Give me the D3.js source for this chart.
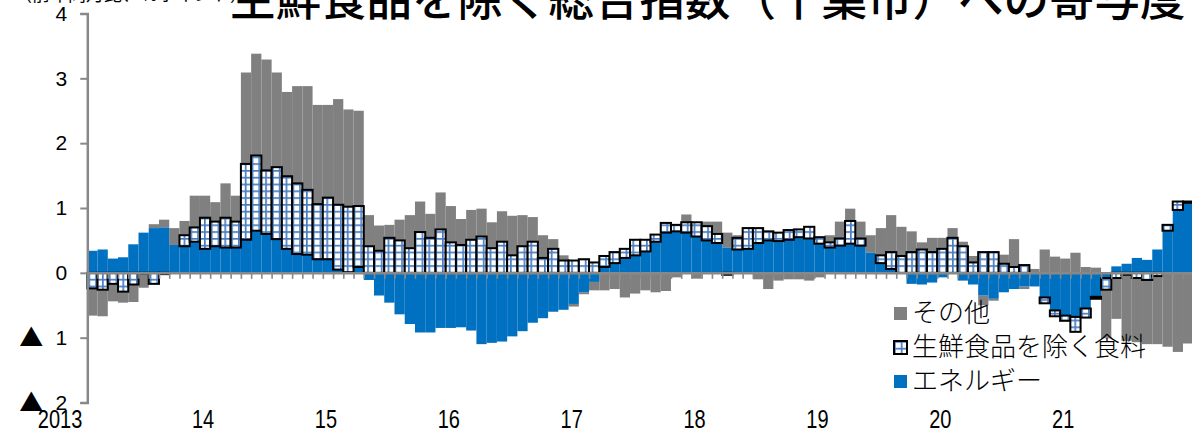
<!DOCTYPE html>
<html>
<head>
<meta charset="utf-8">
<script src="https://cdn.jsdelivr.net/npm/d3@7"></script>
<style>
body { margin: 0; background: #fff; }
svg { display: block; }
</style>
</head>
<body>
<div id="chart"></div>
<script>
// monthly, 2013-01 .. 2021-12
var months = d3.range(108);
var yearLabels = ["2013", "14", "15", "16", "17", "18", "19", "20", "21"];
var yTicks = [-2, -1, 0, 1, 2, 3, 4];
var legendNames = ["その他", "生鮮食品を除く食料", "エネルギー"];

var energy = [
	0.34, 0.36, 0.22, 0.24, 0.44, 0.62, 0.69, 0.70, 0.43, 0.41, 0.48, 0.37,
	0.41, 0.39, 0.39, 0.51, 0.65, 0.60, 0.52, 0.37, 0.29, 0.28, 0.21, 0.21,
	0.05, 0.01, 0.09, -0.11, -0.35, -0.46, -0.64, -0.79, -0.92, -0.92, -0.85, -0.85,
	-0.84, -0.89, -1.10, -1.08, -1.06, -0.98, -0.90, -0.77, -0.70, -0.60, -0.57, -0.48,
	-0.30, -0.14, 0.09, 0.15, 0.23, 0.27, 0.33, 0.48, 0.62, 0.64, 0.62, 0.56,
	0.50, 0.46, 0.39, 0.36, 0.37, 0.46, 0.50, 0.49, 0.51, 0.55, 0.53, 0.45,
	0.39, 0.42, 0.45, 0.42, 0.31, 0.15, 0.06, -0.01, -0.17, -0.18, -0.15, -0.07,
	-0.01, -0.12, -0.18, -0.35, -0.40, -0.30, -0.25, -0.21, -0.21, -0.38, -0.58, -0.66,
	-0.68, -0.55, -0.37, -0.08, 0.10, 0.14, 0.23, 0.20, 0.36, 0.65, 0.97, 1.08
];
var food = [
	-0.24, -0.26, -0.17, -0.29, -0.18, -0.01, -0.17, -0.02, 0.00, 0.17, 0.22, 0.48,
	0.38, 0.46, 0.40, 1.17, 1.16, 0.98, 1.11, 1.12, 1.09, 1.00, 0.85, 0.95,
	1.00, 1.01, 0.94, 0.41, 0.34, 0.54, 0.50, 0.38, 0.63, 0.54, 0.67, 0.47,
	0.43, 0.51, 0.56, 0.38, 0.48, 0.27, 0.41, 0.48, 0.23, 0.37, 0.19, 0.19,
	0.21, 0.16, 0.17, 0.17, 0.14, 0.24, 0.18, 0.11, 0.15, 0.10, 0.16, 0.22,
	0.22, 0.14, -0.03, 0.18, 0.32, 0.23, 0.14, 0.13, 0.15, 0.12, 0.18, 0.10,
	0.08, 0.11, 0.35, 0.11, 0.00, 0.12, 0.26, 0.26, 0.32, 0.36, 0.32, 0.37,
	0.54, 0.41, 0.16, 0.32, 0.32, 0.14, 0.09, 0.12, 0.00, -0.09, -0.09, -0.08,
	-0.23, -0.14, -0.03, -0.18, -0.08, -0.03, -0.08, -0.11, -0.05, 0.09, 0.13, 0.02
];
var other = [
	-0.42, -0.41, -0.27, -0.17, -0.27, -0.22, 0.06, 0.12, 0.26, 0.22, 0.49, 0.34,
	0.30, 0.53, 0.40, 1.41, 1.57, 1.71, 1.46, 1.30, 1.50, 1.60, 1.53, 1.43,
	1.63, 1.50, 1.47, 0.48, 0.39, 0.20, 0.32, 0.51, 0.47, 0.37, 0.57, 0.56,
	0.40, 0.46, 0.43, 0.40, 0.47, 0.61, 0.48, 0.38, 0.35, 0.15, 0.08, -0.04,
	-0.03, -0.13, -0.27, -0.25, -0.38, -0.32, -0.27, -0.30, -0.28, -0.07, 0.12, -0.09,
	0.07, 0.19, 0.23, 0.04, 0.01, -0.10, -0.25, -0.12, -0.10, -0.10, -0.12, -0.07,
	0.11, 0.26, 0.19, 0.26, 0.27, 0.42, 0.57, 0.45, 0.32, 0.11, 0.22, 0.17,
	0.15, 0.07, 0.10, -0.15, -0.03, 0.14, 0.43, -0.04, 0.06, 0.36, 0.25, 0.22,
	0.31, 0.09, 0.08, -0.75, -0.63, -1.02, -0.99, -0.99, -1.05, -1.14, -1.22, -1.09
];

var W = 1192, H = 434;
var gray = "#808080", blue = "#0070c0", axisGray = "#888888";

var svg = d3.select("#chart")
	.append("svg")
	.attr("width", W)
	.attr("height", H);

var defs = svg.append("defs");
var pat = defs.append("pattern")
	.attr("id", "grid")
	.attr("patternUnits", "userSpaceOnUse")
	.attr("width", 6.8)
	.attr("height", 6.8);
pat.append("rect").attr("width", 6.8).attr("height", 6.8).attr("fill", "#fff");
pat.append("rect").attr("x", 0).attr("y", 0).attr("width", 1.7).attr("height", 6.8).attr("fill", "#4a7dc0");
pat.append("rect").attr("x", 0).attr("y", 0).attr("width", 6.8).attr("height", 1.7).attr("fill", "#4a7dc0");

var x = d3.scaleBand()
	.domain(months)
	.range([87.3, 87.3 + 108 * 10.24])
	.padding(0);
var xb = d3.scaleLinear()
	.domain([0, 108])
	.range([87.3, 87.3 + 108 * 10.24]);
var y = d3.scaleLinear()
	.domain([-2, 4])
	.range([402.5, 13.5]);

var rows = months.map(function(i) {
	return { energy: energy[i], food: food[i], other: other[i] };
});
// Excel order: energy at the base, then food, then others
var stacked = d3.stack()
	.keys(["energy", "food", "other"])
	.offset(d3.stackOffsetDiverging)(rows);

var fills = { energy: blue, food: "url(#grid)", other: gray };

// gray and blue first, food boxes last so outlines sit on top
["other", "energy", "food"].forEach(function(key) {
	var layer = stacked.filter(function(s) { return s.key == key; })[0];
	var g = svg.append("g").attr("class", "layer-" + key);
	g.selectAll("rect")
		.data(layer.filter(function(d) { return d[1] - d[0] != 0; }))
		.enter()
		.append("rect")
		.attr("x", function(d) { return x(layer.indexOf(d)); })
		.attr("width", x.bandwidth())
		.attr("y", function(d) { return y(Math.max(d[0], d[1])); })
		.attr("height", function(d) { return Math.abs(y(d[0]) - y(d[1])); })
		.attr("fill", fills[key])
		.attr("stroke", key == "food" ? "#000" : "none")
		.attr("stroke-width", key == "food" ? 2 : 0);
});

// y axis
var yAxis = svg.append("g")
	.attr("transform", "translate(87.3,0)")
	.call(d3.axisLeft(y)
		.tickValues(yTicks)
		.tickSize(7)
		.tickPadding(13)
		.tickFormat(function(d) { return Math.abs(d); }));
yAxis.select(".domain").attr("stroke", axisGray).attr("stroke-width", 2.5);
yAxis.selectAll(".tick line").attr("stroke", axisGray).attr("stroke-width", 2);
yAxis.selectAll(".tick text")
	.attr("font-family", "Liberation Sans, Arial, sans-serif")
	.attr("font-size", 21)
	.attr("fill", "#000");
yAxis.selectAll(".tick")
	.filter(function(d) { return d < 0; })
	.append("text")
	.attr("x", -44)
	.attr("dy", "0.32em")
	.attr("text-anchor", "end")
	.attr("font-family", "Noto Sans CJK JP, sans-serif")
	.attr("font-size", 24)
	.attr("fill", "#000")
	.text("▲");

// zero line with month ticks
var xAxis = svg.append("g")
	.attr("transform", "translate(0," + y(0) + ")")
	.call(d3.axisBottom(xb)
		.tickValues(d3.range(1, 108))
		.tickSize(6)
		.tickSizeOuter(0)
		.tickFormat(""));
xAxis.select(".domain").attr("stroke", axisGray).attr("stroke-width", 2.5);
xAxis.selectAll(".tick line").attr("stroke", axisGray).attr("stroke-width", 1.6);

// year labels
svg.append("g").selectAll("text")
	.data(yearLabels)
	.enter()
	.append("text")
	.attr("transform", function(d, i) {
		var px = xb(i * 12) + (i == 0 ? -5 : 4);
		return "translate(" + px + ",428) scale(0.8,1)";
	})
	.attr("text-anchor", "end")
	.attr("font-family", "Liberation Sans, Arial, sans-serif")
	.attr("font-size", 25)
	.attr("fill", "#000")
	.text(function(d) { return d; });

// title (cut off at the top in the original)
svg.append("text")
	.attr("x", 230)
	.attr("y", 16)
	.attr("font-family", "Noto Sans CJK JP, sans-serif")
	.attr("font-size", 45.5)
	.attr("font-weight", 500)
	.attr("fill", "#000")
	.text("生鮮食品を除く総合指数（千葉市）への寄与度");

svg.append("text")
	.attr("x", 14)
	.attr("y", 1)
	.attr("font-family", "Noto Sans CJK JP, sans-serif")
	.attr("font-size", 18)
	.attr("fill", "#000")
	.text("（前年同月比、％ポイント）");

// legend
var legendFills = [gray, "url(#grid)", blue];
var lg = svg.append("g").attr("transform", "translate(894,307)");
var item = lg.selectAll("g")
	.data(legendNames)
	.enter()
	.append("g")
	.attr("transform", function(d, i) { return "translate(0," + i * 34 + ")"; });
item.append("rect")
	.attr("width", 13)
	.attr("height", 13)
	.attr("fill", function(d, i) { return legendFills[i]; })
	.attr("stroke", function(d, i) { return i == 1 ? "#000" : "none"; })
	.attr("stroke-width", 2);
item.append("text")
	.attr("x", 18)
	.attr("y", 15)
	.attr("font-family", "Noto Sans CJK JP, sans-serif")
	.attr("font-size", 26)
	.attr("font-weight", 300)
	.attr("fill", "#000")
	.text(function(d) { return d; });
</script>
</body>
</html>
